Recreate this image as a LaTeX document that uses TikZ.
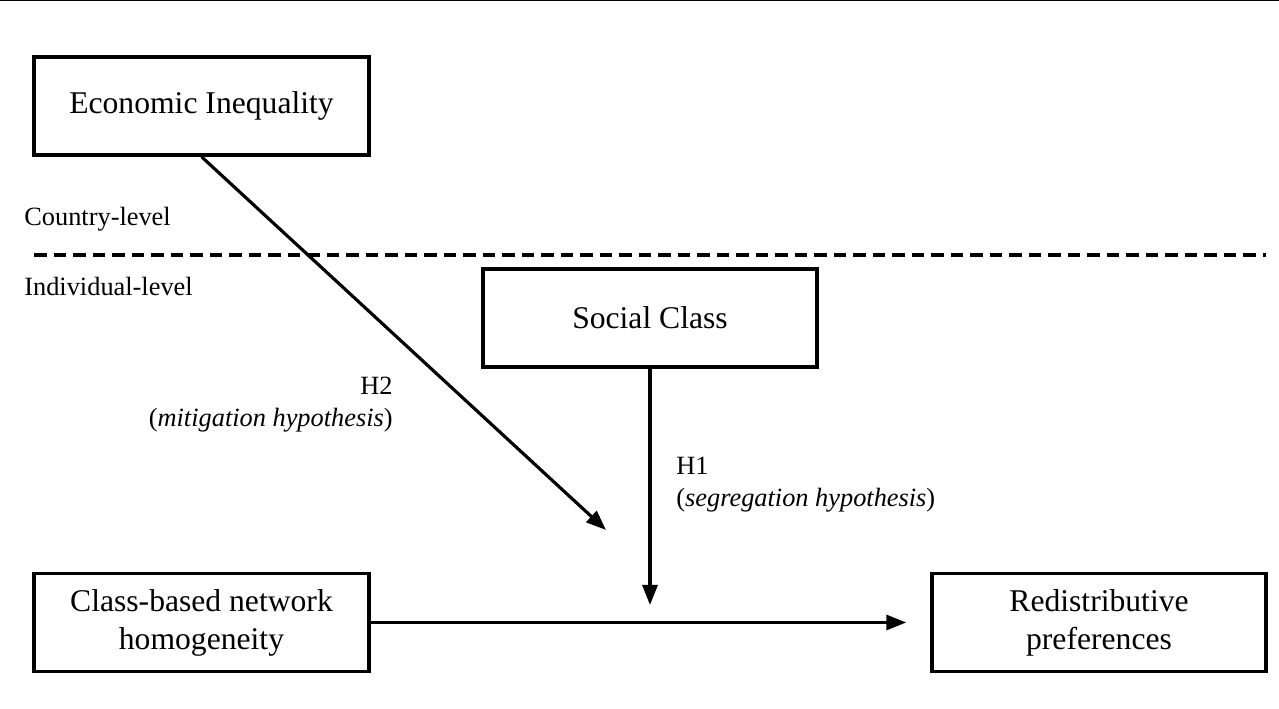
\documentclass[tikz,border=0pt]{standalone}
\usepackage{fontspec}
\setmainfont{Liberation Serif}
\usetikzlibrary{arrows.meta, positioning}

\begin{document}
\begin{tikzpicture}[
    varbox/.style={draw=black, line width=2pt, minimum width=6.7cm, minimum height=1.96cm,
                   align=center, font=\fontsize{18}{21.6}\selectfont, inner sep=2pt},
    levellabel/.style={anchor=west, font=\fontsize{15}{18}\selectfont, inner sep=0pt},
    hyplabel/.style={font=\fontsize{15}{18.2}\selectfont, inner sep=0pt},
    effect/.style={line width=1.8pt, -{Triangle[length=0.4cm, width=0.3cm]}}
]

% Page frame
\useasboundingbox (0,0) rectangle (25.58,14.18);
\draw[line width=1.2pt] (0,14.18) -- (25.58,14.18);

% Country-level variable
\node[varbox] (ineq) at (4.03, 12.06) {Economic Inequality};

% Level separator
\draw[line width=1.8pt, dash pattern=on 0.25cm off 0.14cm] (0.68, 9.08) -- (25.32, 9.08);
\node[levellabel] (country) at (0.48, 9.8) {Country-level};
\node[levellabel] (individual) at (0.48, 8.46) {Individual-level};

% Individual-level variables
\node[varbox, minimum width=6.68cm] (class) at (13.0, 7.82) {Social Class};
\node[varbox] (network) at (4.03, 1.73) {Class-based network\\homogeneity};
\node[varbox, minimum width=6.68cm] (pref) at (21.98, 1.73) {Redistributive\\preferences};

% Moderation targets
\coordinate (h2end) at (12.12, 3.58);
\coordinate (h1end) at (13.0, 2.08);

% Arrows
\draw[effect] (ineq.south) -- (h2end);
\draw[effect] (class.south) -- (h1end);
\draw[effect, shorten >=0.48cm] (network.east) -- (pref.west);

% Hypotheses
\node[hyplabel, align=right, anchor=east] (h2) at (7.86, 6.08) {H2\\(\textit{mitigation hypothesis})};
\node[hyplabel, align=left, anchor=west] (h1) at (13.52, 4.48) {H1\\(\textit{segregation hypothesis})};

\end{tikzpicture}
\end{document}
